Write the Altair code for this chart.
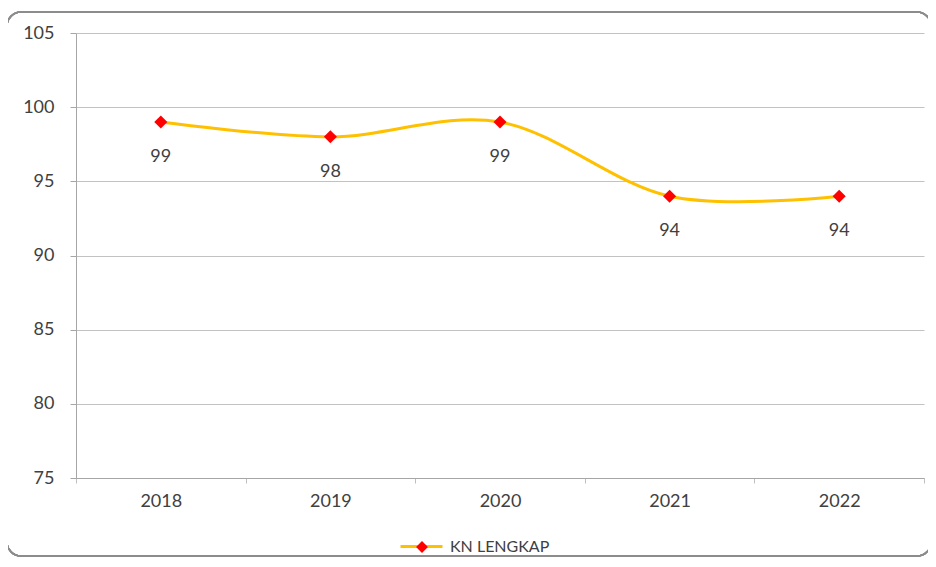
import altair as alt
import pandas as pd

years = ["2018", "2019", "2020", "2021", "2022"]
values = [99, 98, 99, 94, 94]
series = ["KN LENGKAP"] * 5

df = pd.DataFrame({"year": years, "value": values, "series": series})

FONT = "Lato"
TXT = "#404040"
FS = 18

x = alt.X("year:N", scale=alt.Scale(type="band", paddingInner=0, paddingOuter=0),
          axis=alt.Axis(title=None, labelAngle=0, tickBand="extent", tickSize=5,
                        tickColor="#BFBFBF", domainColor="#A6A6A6", labelPadding=9,
                        labelFontSize=FS, labelColor=TXT, labelFont=FONT, grid=False))
y = alt.Y("value:Q", scale=alt.Scale(domain=[75, 105], nice=False, zero=False),
          axis=alt.Axis(title=None, values=[75, 80, 85, 90, 95, 100, 105], tickSize=6,
                        tickColor="#A6A6A6", domainColor="#A6A6A6", gridColor="#C2C2C2",
                        labelPadding=16, labelFontSize=FS, labelColor=TXT, labelFont=FONT))

base = alt.Chart(df)

frame = base.mark_rect(fill="transparent", stroke="#8C8C8C", strokeWidth=1.5,
                       cornerRadius=14).encode(
    x=alt.value(-69), x2=alt.value(855), y=alt.value(-21), y2=alt.value(523))

line = base.mark_line(interpolate="cardinal", strokeWidth=3).encode(
    x=x, y=y,
    color=alt.Color("series:N", scale=alt.Scale(range=["#FFC000"]),
                    legend=alt.Legend(title=None, orient="none", legendX=323, legendY=491,
                                      symbolType="stroke", symbolSize=1764,
                                      symbolStrokeWidth=3, padding=0, labelFontSize=16,
                                      labelColor=TXT, labelFont=FONT, labelOffset=6,
                                      zindex=1)))

pts = base.mark_point(shape="diamond", filled=True, size=170, opacity=1).encode(
    x=x, y=y,
    fill=alt.Fill("series:N", scale=alt.Scale(range=["#FF0000"]),
                  legend=alt.Legend(title=None, orient="none", legendX=338, legendY=506,
                                    symbolType="diamond", symbolSize=140, padding=0,
                                    symbolStrokeWidth=0, labelExpr="''",
                                    labelFontSize=16, zindex=2)))

labels = base.mark_text(dy=35, fontSize=FS, font=FONT, color=TXT).encode(
    x=x, y=y, text=alt.Text("value:Q"))

chart = alt.layer(frame, line, pts, labels).properties(
    width=848, height=445,
    autosize=alt.AutoSizeParams(type="none"),
    padding={"left": 68, "top": 25, "right": 4, "bottom": 79},
    background="white",
).configure_view(stroke=None)

chart.save("out.html", embed_options={"renderer": "svg", "actions": False})
